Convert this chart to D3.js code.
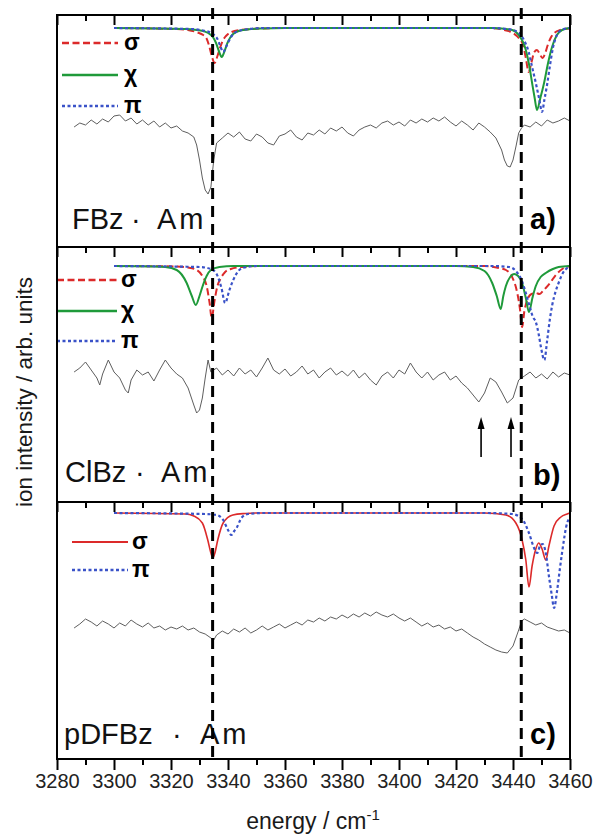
<!DOCTYPE html>
<html>
<head>
<meta charset="utf-8">
<script src="https://cdn.jsdelivr.net/npm/d3@7"></script>
<style>
  body { margin: 0; background: #fff; }
  text { font-family: "Liberation Sans", Arial, sans-serif; }
</style>
</head>
<body>
<div id="chart"></div>
<script>
// ---- data (energy in cm^-1, intensities in arb. units) ----
const XDOMAIN = [3280, 3460];
const majorTicks = [3280, 3300, 3320, 3340, 3360, 3380, 3400, 3420, 3440, 3460];
const minorTicks = [3290, 3310, 3330, 3350, 3370, 3390, 3410, 3430, 3450];
const guideLines = [3334.6, 3442.9];
const arrowsB = [3428.8, 3439.3];

const panelNames = ["FBz", "ClBz", "pDFBz"];
const panelTags = ["a)", "b)", "c)"];

// simulated spectra: [energy, dip depth below the simulated baseline]
const aSigma = [[3300,0],[3322,1],[3326,2],[3329.3,4.5],[3331.3,7],[3332.4,10],[3333.3,17],[3334.3,28],[3335.3,35],[3336.3,28],[3337.3,19],[3338.3,12],[3339.3,8],[3341.3,4],[3344.3,2],[3348.3,1],[3360,0],[3432,0],[3437,2],[3440,5],[3442,10],[3443.5,17],[3444.5,30],[3445.5,44],[3446.5,34],[3447.5,24],[3448.4,22],[3449.4,26],[3450.3,30],[3451.2,26],[3452.2,17],[3453.2,10],[3454.5,5],[3456.5,2],[3460,0.5]];
const aChi = [[3300,0],[3325,1],[3329,2],[3331.8,3.5],[3333.8,6.5],[3334.8,9.5],[3335.8,15],[3336.8,23],[3337.8,29],[3338.8,23],[3339.8,15],[3340.8,9.5],[3341.8,6],[3343.8,3],[3346.8,1.5],[3352,0.5],[3360,0],[3433,0],[3439.7,2],[3442,7],[3443.5,14],[3444.5,22],[3445.6,36],[3446.7,55],[3447.6,70],[3448.4,82],[3449.6,70],[3450.9,55],[3452.3,35],[3453.7,19],[3455.4,7],[3457.2,2],[3460,0]];
const aPi = [[3300,0],[3327,1],[3331.3,2.5],[3334.3,5],[3335.3,7.5],[3336.3,11],[3337.3,18],[3338.3,24],[3339.3,19],[3340.3,13],[3341.3,8],[3342.3,5],[3344.3,2.5],[3347.3,1],[3352,0],[3432,0],[3438,1],[3441,3],[3442.5,6],[3444,13],[3445.5,24],[3446.7,39],[3448,55],[3449.2,71],[3450.2,84],[3451,72],[3452,56],[3453,37],[3454,20],[3455.4,7],[3457,2],[3460,0]];

const bSigma = [[3300,0],[3322,0.5],[3326,1.5],[3329,4],[3331,10],[3332.5,20],[3333.5,36],[3334.3,52],[3335.2,36],[3336.3,20],[3337.5,12],[3339,6],[3341,3],[3345,1],[3352,0],[3430,0],[3435,2],[3437.5,4],[3439.7,11],[3441.5,27],[3442.4,42],[3443.2,61],[3444,45],[3445,34],[3446.5,28],[3448,27],[3449.3,28],[3450.5,25],[3451.5,22],[3453,17],[3455,9],[3457.3,3],[3460,0]];
const bChi = [[3300,0],[3314,0.5],[3318,1],[3322,4],[3325.5,17],[3327.3,30],[3328.7,39],[3330,30],[3331,21],[3332.5,10],[3334,4],[3337,1],[3342,0],[3420,0],[3426,1],[3430,5],[3432.7,17],[3434.3,30],[3435.7,43],[3436.6,30],[3437.5,20],[3439,11],[3440.4,8],[3441.8,10],[3443.2,17],[3444.5,32],[3445.6,46],[3446.8,32],[3448,20],[3449.7,11],[3451.5,7],[3454,3],[3456,1],[3460,0]];
const bPi = [[3300,0],[3330,1],[3334,3],[3336,8],[3337.7,22],[3339,37],[3340.5,24],[3342.9,8],[3345,2],[3350,0],[3432,0],[3438.6,1],[3441,5],[3443,14],[3444.5,27],[3446,42],[3447,51],[3448,56],[3449,68],[3449.8,81],[3451,94],[3452,74],[3453,52],[3453.7,40],[3455,25],[3456,17],[3457.5,7],[3459,2],[3460,0]];

const cSigma = [[3300,0],[3325,1],[3328,3],[3331,10],[3332.9,27],[3334,40],[3334.7,45],[3335.4,40],[3336.4,27],[3338.3,10],[3341.7,2],[3346,0.5],[3350,0],[3430,0],[3437.5,2],[3441,10],[3443.2,27],[3444.5,47],[3445.6,74],[3446.7,53],[3448,36],[3449,30],[3450.2,36],[3451.5,47],[3452.6,33],[3454.4,13],[3456.8,4],[3459,1],[3460,0]];
const cPi = [[3300,0],[3332,1],[3336,2],[3338.3,7],[3340,17],[3341.2,22],[3342.2,18],[3343,15],[3344.7,5],[3347,1],[3352,0],[3430,0],[3439.7,1],[3443.2,6],[3445.6,20],[3447.4,35],[3448.5,40],[3449.6,32],[3450.4,31],[3451.5,40],[3452.6,63],[3453.6,82],[3454.4,95],[3455.5,77],[3456.4,57],[3457.2,40],[3459,10],[3460,5]];

// measured ion-dip spectra: [energy, ion signal]
const traceA = [[3286,120],[3288,124],[3290,122],[3292,127],[3294,123],[3296,128],[3298,125],[3300,131],[3302,132],[3304,126],[3306,129],[3308,123],[3310,127],[3312,122],[3314,126],[3316,120],[3318,124],[3320,119],[3322,121],[3324,116],[3326,114],[3328,110],[3329,102],[3330,87],[3331,69],[3332,57],[3333,53],[3334,60],[3335,87],[3336,104],[3338,109],[3340,114],[3342,110],[3344,115],[3346,108],[3348,106],[3350,113],[3352,110],[3354,104],[3356,102],[3358,111],[3360,113],[3362,117],[3364,110],[3366,107],[3368,114],[3370,112],[3372,117],[3374,113],[3376,119],[3378,116],[3380,120],[3382,114],[3384,111],[3386,117],[3388,120],[3390,122],[3392,119],[3394,124],[3396,126],[3398,122],[3400,125],[3402,121],[3404,127],[3406,124],[3408,128],[3410,125],[3412,129],[3414,126],[3416,130],[3418,125],[3420,121],[3422,126],[3424,122],[3426,117],[3428,124],[3430,120],[3432,115],[3434,109],[3436,97],[3437,87],[3438,81],[3439,80],[3440,87],[3441,100],[3442,114],[3443,119],[3444,122],[3446,120],[3448,125],[3450,121],[3452,127],[3454,124],[3456,126],[3458,129],[3460,126]];
const traceB = [[3286,130],[3288,134],[3290,140],[3292,132],[3294,124],[3295,117],[3296,128],[3298,142],[3300,130],[3302,124],[3304,112],[3305,109],[3306,122],[3308,132],[3310,127],[3312,130],[3314,121],[3316,132],[3318,142],[3320,134],[3322,128],[3324,124],[3326,114],[3328,97],[3329,89],[3330,92],[3331,104],[3332,124],[3333,142],[3334,130],[3336,134],[3338,127],[3340,132],[3342,126],[3344,134],[3346,128],[3348,132],[3350,125],[3352,134],[3354,144],[3356,132],[3358,128],[3360,133],[3362,126],[3364,130],[3366,136],[3368,128],[3370,132],[3372,124],[3374,130],[3376,134],[3378,127],[3380,131],[3382,126],[3384,132],[3386,124],[3388,129],[3390,122],[3392,117],[3394,126],[3396,130],[3398,124],[3400,132],[3402,128],[3404,139],[3406,130],[3408,124],[3410,130],[3412,122],[3414,127],[3416,130],[3418,122],[3420,126],[3422,119],[3424,114],[3426,107],[3428,100],[3430,109],[3432,124],[3434,120],[3436,110],[3438,99],[3440,104],[3442,122],[3444,126],[3446,130],[3448,124],[3450,128],[3452,123],[3454,130],[3456,125],[3458,129],[3460,127]];
const traceC = [[3286,131],[3288,135],[3290,140],[3292,137],[3294,133],[3296,138],[3298,135],[3300,131],[3302,136],[3304,133],[3306,139],[3308,135],[3310,132],[3312,136],[3314,131],[3316,133],[3318,129],[3320,132],[3322,130],[3324,133],[3326,129],[3328,131],[3330,127],[3332,125],[3334,121],[3335,119],[3336,124],[3338,128],[3340,125],[3342,130],[3344,127],[3346,131],[3348,126],[3350,129],[3352,133],[3354,129],[3356,132],[3358,135],[3360,131],[3362,134],[3364,137],[3366,134],[3368,139],[3370,137],[3372,141],[3374,138],[3376,142],[3378,140],[3380,144],[3382,141],[3384,145],[3386,142],[3388,146],[3390,143],[3392,147],[3394,144],[3396,142],[3398,145],[3400,141],[3402,138],[3404,141],[3406,137],[3408,133],[3410,136],[3412,132],[3414,134],[3416,130],[3418,132],[3420,128],[3422,130],[3424,126],[3426,122],[3428,119],[3430,115],[3432,112],[3434,109],[3436,107],[3438,106],[3440,113],[3442,129],[3443,138],[3444,140],[3446,137],[3448,134],[3450,136],[3452,132],[3454,130],[3456,128],[3458,129],[3460,126]];

// ---- styles / layout ----
const W = 594, H = 837;
const styles = {
  sigma: { color: "#dc2a2a", dash: "7,3.5", width: 2 },
  sigmaSolid: { color: "#dc2a2a", dash: null, width: 1.6 },
  chi: { color: "#1f9a3a", dash: null, width: 2 },
  pi: { color: "#3a52c8", dash: "3,2.5", width: 2.2 },
};
const symbols = { sigma: "σ", sigmaSolid: "σ", chi: "χ", pi: "π" };

const panels = [
  { top: 15, bottom: 247, simBase: 219, trace: traceA,
    sims: [["sigma", aSigma], ["chi", aChi], ["pi", aPi]],
    legend: { x0: 62, x1: 118, tx: 124, ys: [43, 75, 106] },
    label: { x: 72, dot: 131, am: 157, y: 229 }, tag: { x: 530, y: 229 } },
  { top: 247, bottom: 502, simBase: 236, trace: traceB,
    sims: [["sigma", bSigma], ["chi", bChi], ["pi", bPi]],
    legend: { x0: 57, x1: 117, tx: 121, ys: [280, 311, 341] },
    label: { x: 65, dot: 135, am: 161, y: 482 }, tag: { x: 533, y: 485 } },
  { top: 502, bottom: 759, simBase: 246, trace: traceC,
    sims: [["sigmaSolid", cSigma], ["pi", cPi]],
    legend: { x0: 72, x1: 128, tx: 132, ys: [542, 570] },
    label: { x: 64, dot: 172, am: 200, y: 744 }, tag: { x: 530, y: 744 } },
];

const svg = d3.select("#chart").append("svg")
  .attr("width", W).attr("height", H);

const x = d3.scaleLinear().domain(XDOMAIN).range([57, 570]);

panels.forEach((p, i) => {
  const y = d3.scaleLinear().domain([0, p.bottom - p.top]).range([p.bottom, p.top]);
  const g = svg.append("g");

  // measured trace
  g.append("path")
    .datum(p.trace)
    .attr("fill", "none")
    .attr("stroke", "#5e5e5e")
    .attr("stroke-width", 1)
    .attr("d", d3.line().x(d => x(d[0])).y(d => y(d[1])));

  // simulated spectra
  p.sims.forEach(([key, data]) => {
    const s = styles[key];
    g.append("path")
      .datum(data)
      .attr("fill", "none")
      .attr("stroke", s.color)
      .attr("stroke-width", s.width)
      .attr("stroke-dasharray", s.dash)
      .attr("d", d3.line().curve(d3.curveMonotoneX)
        .x(d => x(d[0])).y(d => y(p.simBase - d[1])));
  });

  // legend
  p.sims.forEach(([key], j) => {
    const s = styles[key];
    const ly = p.legend.ys[j];
    g.append("line")
      .attr("x1", p.legend.x0).attr("x2", p.legend.x1)
      .attr("y1", ly).attr("y2", ly)
      .attr("stroke", s.color)
      .attr("stroke-width", s.width + 0.4)
      .attr("stroke-dasharray", s.dash);
    g.append("text")
      .attr("x", p.legend.tx).attr("y", ly + 7)
      .attr("font-family", "'Liberation Serif', 'DejaVu Serif', serif")
      .attr("font-size", "23px").attr("font-weight", "bold")
      .text(symbols[key]);
  });

  // frame
  g.append("rect")
    .attr("x", x(XDOMAIN[0])).attr("y", p.top)
    .attr("width", x(XDOMAIN[1]) - x(XDOMAIN[0]))
    .attr("height", p.bottom - p.top)
    .attr("fill", "none").attr("stroke", "#000").attr("stroke-width", 2);

  // inward ticks along the top edge
  [[majorTicks, 10], [minorTicks, 6]].forEach(([vals, size]) => {
    const ax = g.append("g")
      .attr("transform", `translate(0,${p.top})`)
      .call(d3.axisBottom(x).tickValues(vals).tickSize(size).tickFormat(""));
    ax.select(".domain").remove();
    ax.selectAll("line").attr("stroke", "#000").attr("stroke-width", 2);
  });

  // compound label
  const lab = g.append("text").attr("y", p.label.y).attr("font-size", "29px").attr("fill", "#111");
  lab.append("tspan").attr("x", p.label.x).text(panelNames[i]);
  lab.append("tspan").attr("x", p.label.dot).text("·");
  lab.append("tspan").attr("x", p.label.am).text("A");
  lab.append("tspan").attr("dx", 3).text("m");

  g.append("text")
    .attr("x", p.tag.x).attr("y", p.tag.y)
    .attr("font-size", "29px").attr("font-weight", "bold")
    .text(panelTags[i]);
});

// arrows in panel b
const arrowG = svg.append("g");
arrowsB.forEach(e => {
  const ax = x(e);
  arrowG.append("line")
    .attr("x1", ax).attr("x2", ax).attr("y1", 457).attr("y2", 426)
    .attr("stroke", "#000").attr("stroke-width", 1.6);
  arrowG.append("path")
    .attr("d", `M${ax},417 L${ax - 3.5},429 L${ax + 3.5},429 Z`)
    .attr("fill", "#000");
});

// vertical dashed guide lines
svg.selectAll(".guide")
  .data(guideLines)
  .join("line")
  .attr("class", "guide")
  .attr("x1", d => x(d)).attr("x2", d => x(d))
  .attr("y1", 8).attr("y2", 759)
  .attr("stroke", "#000")
  .attr("stroke-width", 3)
  .attr("stroke-dasharray", "11,7");

// bottom axis
const bottomY = panels[2].bottom;
const xAxis = svg.append("g")
  .attr("transform", `translate(0,${bottomY})`)
  .call(d3.axisBottom(x).tickValues(majorTicks).tickSize(11).tickPadding(4).tickFormat(d3.format("d")));
xAxis.select(".domain").remove();
xAxis.selectAll("line").attr("stroke", "#000").attr("stroke-width", 2);
xAxis.selectAll("text")
  .attr("font-size", "20px")
  .attr("font-family", "'Liberation Sans', Arial, sans-serif")
  .attr("fill", "#222");
const xMinor = svg.append("g")
  .attr("transform", `translate(0,${bottomY})`)
  .call(d3.axisBottom(x).tickValues(minorTicks).tickSize(6).tickFormat(""));
xMinor.select(".domain").remove();
xMinor.selectAll("line").attr("stroke", "#000").attr("stroke-width", 2);

// axis titles
const xt = svg.append("text")
  .attr("x", 313).attr("y", 829)
  .attr("text-anchor", "middle")
  .attr("font-size", "23px")
  .attr("fill", "#1a1a1a");
xt.append("tspan").text("energy / cm");
xt.append("tspan").attr("dy", -9).attr("font-size", "15px").text("-1");

svg.append("text")
  .attr("transform", "translate(32,392) rotate(-90)")
  .attr("text-anchor", "middle")
  .attr("font-size", "22.5px")
  .attr("fill", "#1a1a1a")
  .text("ion intensity / arb. units");
</script>
</body>
</html>
